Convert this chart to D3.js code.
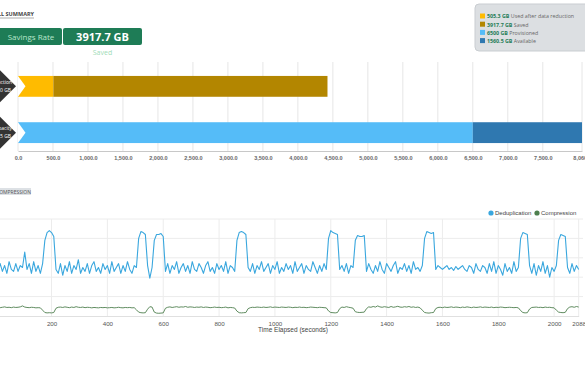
<!DOCTYPE html>
<html><head><meta charset="utf-8">
<script src="https://cdn.jsdelivr.net/npm/d3@7"></script>
<style>
html,body{margin:0;padding:0;background:#fff;overflow:hidden;}
svg{display:block;}
</style></head>
<body>
<svg id="c" width="585" height="390"></svg>
<script>
// ---------- DATA ----------
const barCategories = ["Data Reduction", "Capacity"];
const barRowLabels = [["Used before Data Reduction", "4423.0 GB"], ["Total Capacity", "8060.5 GB"]];
const usedSeries = [505.3, 3917.7];          // used after reduction, saved
const capacitySeries = [6500, 1560.5];      // provisioned, available
const legendValues = ["505.3 GB", "3917.7 GB", "6500 GB", "1560.5 GB"];
const legendLabels = ["Used after data reduction", "Saved", "Provisioned", "Available"];
const barTickValues = [0, 500, 1000, 1500, 2000, 2500, 3000, 3500, 4000, 4500, 5000, 5500, 6000, 6500, 7000, 7500, 8060.5];
const savedValue = "3917.7 GB";

const seriesNames = ["Deduplication", "Compression"];
const timeStep = 8; // seconds between samples
const timeTicks = [200, 400, 600, 800, 1000, 1200, 1400, 1600, 1800, 2000, 2088];
const dedup = [
2.5,2.2,2.7,2.3,2.6,2.2,2.8,2.4,2.3,2.7,
2.3,2.6,2.5,3.3,2.4,2.7,2.2,2.8,2.3,2.6,
2.2,2.7,3.9,4.3,4.4,4.3,4.1,2.4,2.2,2.7,
2.1,2.6,2.3,2.8,2.2,2.6,2.4,2.9,2.2,2.5,
2.3,2.7,2.2,2.6,2.8,2.3,2.5,2.2,2.7,2.4,
2.6,2.2,2.8,2.3,2.5,2.7,2.2,2.6,2.3,2.8,
2.4,2.2,2.6,2.5,4.0,4.35,4.3,4.2,2.6,1.95,
2.5,3.9,4.2,4.2,4.25,4.1,2.3,2.7,2.2,2.6,
2.4,2.8,2.2,2.5,2.7,2.3,2.6,2.2,2.8,2.4,
2.3,2.7,2.5,2.2,2.6,2.8,2.3,2.5,2.2,2.7,
2.4,2.6,2.3,2.8,2.2,2.6,2.5,2.3,3.9,4.3,
4.35,4.3,4.2,2.5,2.3,2.7,2.2,2.6,2.4,2.8,
2.3,2.5,2.7,2.2,2.6,2.4,2.8,2.2,2.5,2.3,
2.7,2.4,2.6,2.2,2.8,2.3,2.5,2.7,2.2,2.6,
2.4,2.3,2.8,2.5,2.2,2.6,2.3,2.7,2.4,4.0,
4.4,4.3,4.25,4.2,2.4,2.6,2.3,2.7,2.2,2.6,
2.5,3.9,4.15,4.1,4.1,4.15,2.3,2.7,2.4,2.2,
2.6,2.3,2.8,2.4,2.2,2.7,2.5,2.3,2.6,2.8,
2.2,2.5,2.4,2.7,2.3,2.6,2.2,2.8,2.4,2.5,
2.3,2.6,4.0,4.35,4.3,4.25,4.3,2.4,2.6,2.5,
2.4,2.5,2.6,2.4,2.5,2.35,2.55,2.4,2.5,2.6,
2.4,2.3,2.6,2.5,2.2,2.7,2.4,2.3,2.6,2.5,
2.2,2.7,2.3,2.8,2.2,2.6,2.4,2.1,2.7,2.3,
2.5,2.2,2.8,2.3,2.5,4.0,4.3,4.25,4.2,2.6,
2.2,2.7,2.1,2.6,2.3,2.8,2.2,2.6,2.0,2.5,
2.3,2.6,3.9,4.2,4.15,4.1,2.5,2.2,2.7,2.3,
2.6,2.4];
const compression = [
0.44,0.46,0.43,0.45,0.47,0.44,0.45,0.43,0.46,0.44,
0.45,0.47,0.52,0.46,0.44,0.43,0.45,0.44,0.42,0.43,
0.42,0.30,0.18,0.16,0.17,0.16,0.18,0.40,0.45,0.46,
0.44,0.47,0.45,0.43,0.46,0.44,0.48,0.45,0.44,0.46,
0.43,0.45,0.44,0.42,0.44,0.43,0.42,0.44,0.43,0.44,
0.42,0.43,0.44,0.42,0.43,0.45,0.43,0.42,0.44,0.43,
0.44,0.42,0.43,0.32,0.20,0.17,0.16,0.17,0.35,0.48,
0.46,0.20,0.15,0.14,0.15,0.16,0.40,0.45,0.47,0.44,
0.46,0.48,0.45,0.47,0.46,0.49,0.45,0.47,0.46,0.44,
0.46,0.45,0.47,0.44,0.46,0.45,0.43,0.44,0.46,0.44,
0.45,0.43,0.44,0.46,0.42,0.44,0.43,0.41,0.25,0.17,
0.16,0.17,0.18,0.38,0.43,0.45,0.44,0.46,0.45,0.44,
0.46,0.44,0.45,0.47,0.44,0.46,0.45,0.44,0.46,0.45,
0.44,0.46,0.45,0.43,0.45,0.44,0.46,0.44,0.45,0.43,
0.44,0.46,0.45,0.44,0.43,0.45,0.44,0.43,0.42,0.26,
0.18,0.17,0.16,0.18,0.38,0.46,0.44,0.48,0.45,0.43,
0.40,0.22,0.19,0.18,0.19,0.20,0.38,0.47,0.45,0.49,
0.46,0.52,0.47,0.45,0.48,0.46,0.44,0.49,0.45,0.47,
0.50,0.46,0.45,0.48,0.46,0.49,0.45,0.47,0.44,0.46,
0.42,0.30,0.18,0.16,0.15,0.17,0.18,0.38,0.44,0.45,
0.43,0.46,0.44,0.45,0.47,0.44,0.46,0.45,0.43,0.46,
0.44,0.47,0.45,0.43,0.46,0.44,0.45,0.47,0.44,0.46,
0.45,0.44,0.46,0.43,0.45,0.44,0.46,0.45,0.43,0.44,
0.45,0.44,0.43,0.44,0.42,0.28,0.18,0.16,0.17,0.36,
0.44,0.45,0.46,0.44,0.45,0.43,0.46,0.44,0.45,0.43,
0.42,0.30,0.20,0.18,0.17,0.19,0.38,0.46,0.48,0.45,
0.49,0.46];

// ---------- STYLE ----------
const segColors = [["#ffbb00", "#b38600"], ["#55bcf8", "#2f78b0"]];
const greenDark = "#1e7c56";
const lineColors = ["#3aa7de", "#4e7f4e"];

const svg = d3.select("#c");

// ---------- TOP SECTION ----------
const t1 = svg.append("text").attr("x", 34).attr("y", 16).attr("text-anchor", "end")
  .attr("font-family", "Open Sans, sans-serif").attr("font-size", 5.5).attr("font-weight", 700)
  .attr("fill", "#444").text("CAPACITY OVERALL SUMMARY");
svg.append("line").attr("x1", 0).attr("x2", 34).attr("y1", 18).attr("y2", 18).attr("stroke", "#999").attr("stroke-width", 0.8);

svg.append("rect").attr("x", -6).attr("y", 28).attr("width", 68).attr("height", 17).attr("rx", 2).attr("fill", greenDark);
svg.append("text").attr("x", 31).attr("y", 40).attr("text-anchor", "middle")
  .attr("font-family", "Open Sans, sans-serif").attr("font-size", 8).attr("fill", "#b8e6cb").text("Savings Rate");
svg.append("rect").attr("x", 63).attr("y", 28).attr("width", 79).attr("height", 17).attr("rx", 2).attr("fill", greenDark);
svg.append("text").attr("x", 102.5).attr("y", 41).attr("text-anchor", "middle")
  .attr("font-family", "Open Sans, sans-serif").attr("font-size", 11).attr("font-weight", 700).attr("fill", "#fff").text(savedValue);
svg.append("text").attr("x", 102.5).attr("y", 55).attr("text-anchor", "middle")
  .attr("font-family", "Open Sans, sans-serif").attr("font-size", 7).attr("fill", "#9fdcb8").text("Saved");

// legend box
const lg = svg.append("g");
lg.append("rect").attr("x", 475).attr("y", 4).attr("width", 120).attr("height", 47).attr("rx", 4)
  .attr("fill", "#dcdfe2").attr("stroke", "#c9cdd1");
const legendColors = [segColors[0][0], segColors[0][1], segColors[1][0], segColors[1][1]];
legendValues.forEach((v, i) => {
  const y = 17 + i * 8.2;
  lg.append("rect").attr("x", 480).attr("y", y - 3.5).attr("width", 5).attr("height", 5).attr("fill", legendColors[i]);
  const tx = lg.append("text").attr("x", 487).attr("y", y + 1.3)
    .attr("font-family", "Open Sans, sans-serif").attr("font-size", 5.3);
  tx.append("tspan").attr("font-weight", 700).attr("fill", "#1e7c56").text(v);
  tx.append("tspan").attr("fill", "#666").text(" " + legendLabels[i]);
});

// bar chart
const xb = d3.scaleLinear().domain([0, d3.sum(capacitySeries)]).range([18, 582]);
const yb = d3.scaleBand().domain(barCategories).range([69, 150]).paddingInner(0.55).paddingOuter(0.15);
const gridTop = 62, axisY = 151;
svg.append("g").selectAll("line").data(barTickValues).join("line")
  .attr("x1", d => xb(d)).attr("x2", d => xb(d)).attr("y1", gridTop).attr("y2", axisY)
  .attr("stroke", "#e6e6e6").attr("stroke-width", 1);
const axB = svg.append("g").attr("transform", `translate(0,${axisY})`)
  .call(d3.axisBottom(xb).tickValues(barTickValues).tickFormat(d3.format(",.1f")).tickSize(0).tickPadding(5));
axB.select(".domain").attr("stroke", "#c8c8c8");
axB.selectAll("text").attr("font-family", "Liberation Sans, Arial, sans-serif").attr("font-size", 5.5)
  .attr("font-weight", 700).attr("fill", "#666");

const barSeries = [usedSeries, capacitySeries];
barSeries.forEach((vals, r) => {
  const cat = barCategories[r];
  let acc = 0;
  vals.forEach((v, k) => {
    svg.append("rect").attr("x", xb(acc)).attr("y", yb(cat)).attr("width", xb(acc + v) - xb(acc))
      .attr("height", yb.bandwidth()).attr("fill", segColors[r][k]);
    acc += v;
  });
  const y0 = yb(cat), h = yb.bandwidth(), cy = y0 + h / 2;
  // notch
  svg.append("path").attr("d", `M${xb(0)},${y0}L${xb(0) + 7.5},${cy}L${xb(0)},${y0 + h}Z`).attr("fill", "#fff");
  // dark chevron label
  svg.append("path").attr("d", `M16,${cy}L-5,${cy - 21}L-26,${cy}L-5,${cy + 21}Z`).attr("fill", "#333");
  svg.append("text").attr("x", 12).attr("y", cy - 2.5).attr("text-anchor", "end")
    .attr("font-family", "Open Sans, sans-serif").attr("font-size", 5).attr("fill", "#fff").text(barRowLabels[r][0]);
  svg.append("text").attr("x", 11).attr("y", cy + 5.5).attr("text-anchor", "end")
    .attr("font-family", "Open Sans, sans-serif").attr("font-size", 5).attr("fill", "#fff").text(barRowLabels[r][1]);
});

// ---------- BOTTOM SECTION ----------
svg.append("rect").attr("x", 0).attr("y", 188).attr("width", 31).attr("height", 7).attr("fill", "#dde1e5");
svg.append("text").attr("x", 31).attr("y", 193.5).attr("text-anchor", "end")
  .attr("font-family", "Open Sans, sans-serif").attr("font-size", 5).attr("fill", "#555").text("DEDUPLICATION & COMPRESSION");

const xt = d3.scaleLinear().domain([0, 2088]).range([-4.3, 578.7]);
const yt = d3.scaleLinear().domain([0, 5]).range([316, 219]);

svg.append("g").selectAll("line").data([1, 2, 3, 4, 5]).join("line")
  .attr("x1", -5).attr("x2", 583).attr("y1", d => yt(d)).attr("y2", d => yt(d))
  .attr("stroke", "#ececec").attr("stroke-width", 1);
svg.append("g").selectAll("line").data(timeTicks).join("line")
  .attr("x1", d => xt(d)).attr("x2", d => xt(d)).attr("y1", yt(5)).attr("y2", yt(0))
  .attr("stroke", "#ececec").attr("stroke-width", 1);

const axT = svg.append("g").attr("transform", `translate(0,${yt(0)})`)
  .call(d3.axisBottom(xt).tickValues(timeTicks).tickFormat(d3.format("d")).tickSize(0).tickPadding(6));
axT.select(".domain").attr("stroke", "#e0e0e0");
axT.selectAll("text").attr("font-family", "Liberation Sans, Arial, sans-serif").attr("font-size", 6.2).attr("fill", "#555");

svg.append("text").attr("x", 293).attr("y", 332).attr("text-anchor", "middle")
  .attr("font-family", "Liberation Sans, Arial, sans-serif").attr("font-size", 6.5).attr("fill", "#444")
  .text("Time Elapsed (seconds)");

const line = d3.line().x((d, i) => xt(Math.min(i * timeStep, 2088))).y(d => yt(d));
[dedup, compression].forEach((s, i) => {
  svg.append("path").datum(s).attr("d", line).attr("fill", "none")
    .attr("stroke", lineColors[i]).attr("stroke-width", i === 0 ? 1.1 : 0.9).attr("stroke-linejoin", "round");
});

// legend
const lx = [491, 537];
seriesNames.forEach((n, i) => {
  svg.append("circle").attr("cx", lx[i]).attr("cy", 213).attr("r", 2.6).attr("fill", lineColors[i]);
  svg.append("text").attr("x", lx[i] + 4).attr("y", 215.2)
    .attr("font-family", "Liberation Sans, Arial, sans-serif").attr("font-size", 6).attr("fill", "#444").text(n);
});
</script>
</body></html>
